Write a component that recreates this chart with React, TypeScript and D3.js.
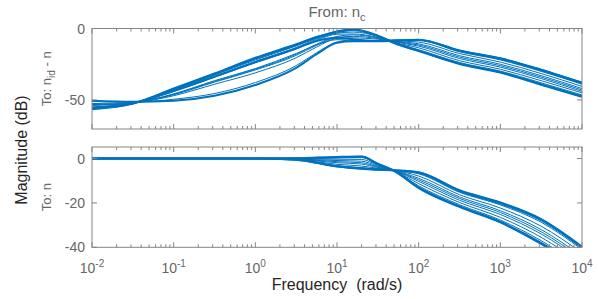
import React from 'react';
import * as d3 from 'd3';

// ---------- data ----------
const FREQ_TOP = [0.01, 0.0316, 0.1, 0.316, 1, 3.16, 5.62, 10, 15.8, 31.6, 50.1, 100, 316, 1000, 3162, 10000];
const FREQ_BOT = [0.01, 1, 3.16, 10, 20, 31.6, 50.1, 100, 316, 1000, 3162, 10000];

// Magnitude (dB), To: n_id - n
const TOP_MAG: number[][] = [
  [-56.5, -52.5, -42, -31.5, -20.5, -11, -6, -2, -0.5, -5, -10, -15.5, -24.5, -30.5, -39, -47.5],
  [-56, -52.4, -42.5, -32, -21, -11.5, -6.3, -2.3, -0.8, -5.2, -10.2, -15.8, -24.8, -30.8, -39.3, -47.8],
  [-55.8, -52.4, -43, -32.5, -22, -12.2, -6.8, -2.8, -1.5, -5.3, -9.8, -14.8, -23.8, -29.8, -38, -46.5],
  [-55.5, -52.3, -43.5, -33.3, -23, -13.3, -7.5, -3.3, -2.5, -5.5, -9.5, -13.5, -22.5, -28.5, -36.5, -45],
  [-55, -52.2, -44, -34, -24, -14.3, -8.3, -4, -3.8, -6.2, -9.2, -12.3, -21, -27, -35, -44],
  [-53.5, -52, -46, -37, -28.5, -18, -11, -5.5, -4.5, -6.5, -9, -11.5, -20, -26, -34, -43],
  [-53.2, -51.9, -46.3, -37.5, -29, -18.8, -11.8, -6.2, -5.5, -7, -8.8, -10.7, -19, -25, -33, -42],
  [-52.5, -51.8, -47, -39, -31, -20.5, -13, -7, -6.5, -7.5, -8.5, -9.5, -17.5, -23.5, -31.5, -40.5],
  [-51, -51.5, -49.5, -45.5, -37.8, -26, -17, -9.5, -8, -8.6, -8.4, -8.4, -16.3, -22, -30, -39],
  [-50.5, -51.3, -50.5, -47, -39.5, -27.5, -18, -10, -9, -9, -8.5, -8, -15.5, -21, -29, -38],
  [-55.3, -52.3, -43.8, -33.8, -23.5, -14, -8.8, -6.5, -7.5, -8.8, -8.3, -7.8, -15.3, -20.8, -28.8, -37.8],
  [-53.8, -52.1, -45.7, -36.5, -28, -17.5, -11.5, -7.8, -8.3, -8.8, -8.3, -8.2, -15.8, -21.5, -29.5, -38.5],
];

// Magnitude (dB), To: n
const BOT_MAG: number[][] = [
  [0, 0, 0.1, 0.7, 0.9, -2.3, -5.5, -13, -21.5, -28.5, -38, -50],
  [0, 0, 0.1, 0.6, 0.8, -2.5, -5.6, -13.3, -21.8, -28.8, -38.5, -50.5],
  [0, 0, 0, 0.3, 0.4, -2.6, -5.5, -12.3, -20.8, -27.7, -37, -49],
  [0, 0, -0.1, -0.3, -0.4, -3, -5.5, -11.3, -19.8, -26.5, -35.5, -47.5],
  [0, 0, -0.2, -0.9, -1.2, -3.4, -5.4, -10.3, -18.8, -25.2, -34, -46],
  [0, 0, -0.3, -1.4, -1.9, -3.7, -5.4, -9.6, -18, -24.3, -33, -45],
  [0, 0, -0.3, -1.9, -2.5, -4, -5.4, -8.9, -17.3, -23.5, -32, -44],
  [0, 0, -0.4, -2.6, -3.4, -4.4, -5.3, -7.9, -16.3, -22.3, -30.5, -42.5],
  [0, 0, -0.5, -3.2, -4.1, -4.7, -5.3, -6.9, -15.2, -20.9, -28.7, -41],
  [0, 0, -0.5, -3.5, -4.5, -4.9, -5.3, -6.3, -14.5, -20, -27.5, -40],
  [0, 0, -0.5, -3.6, -4.6, -5, -5.3, -6.2, -14.3, -19.8, -27.3, -39.7],
  [0, 0, -0.5, -3.4, -4.3, -4.8, -5.3, -6.6, -14.9, -20.5, -28.1, -40.5],
];

const X_TICK_EXP = [-2, -1, 0, 1, 2, 3, 4];
const TOP_Y_TICKS = [0, -50];
const BOT_Y_TICKS = [0, -20, -40];
const TOP_Y_DOMAIN = [-70.3, 0];
const BOT_Y_DOMAIN = [-40, 5.2];

// ---------- layout / style ----------
const W = 598, H = 299;
const L = 92, R = 582;
const TOP_P = { y0: 28.5, y1: 129 };
const BOT_P = { y0: 147, y1: 247.3 };
const BLUE = '#0072BD';
const FRAME = '#858585';
const TICK_TXT = '#666666';
const LABEL_TXT = '#262626';
const FONT = '"Liberation Sans", Arial, Helvetica, sans-serif';
const THICK = new Set([0, 1, 9, 10]);

const x = d3.scaleLog().domain([1e-2, 1e4]).range([L, R]);

function minorTicks(): number[] {
  const out: number[] = [];
  for (let e = -2; e < 4; e++) for (let m = 2; m <= 9; m++) out.push(m * Math.pow(10, e));
  return out;
}

function Panel({ y0, y1, domain, yTicks, freqs, mags, id }: any) {
  const y = d3.scaleLinear().domain(domain).range([y1, y0]);
  const line = d3.line<number>()
    .x((_, i) => x(freqs[i]))
    .y((d) => y(d))
    .curve(d3.curveMonotoneX);
  const majors = X_TICK_EXP.map((e) => Math.pow(10, e));
  const minors = minorTicks();
  return (
    <g>
      <defs>
        <clipPath id={id}>
          <rect x={L} y={y0} width={R - L} height={y1 - y0} />
        </clipPath>
      </defs>
      <g clipPath={`url(#${id})`}>
        {mags.map((m: number[], i: number) => (
          <path key={i} d={line(m) || ''} fill="none" stroke={BLUE}
            strokeWidth={THICK.has(i) ? 2 : 1} strokeLinejoin="round" />
        ))}
      </g>
      <rect x={L} y={y0} width={R - L} height={y1 - y0} fill="none" stroke={FRAME} strokeWidth={1} />
      {majors.map((t, i) => (
        <g key={'M' + i}>
          <line x1={x(t)} x2={x(t)} y1={y0} y2={y0 + 5} stroke={FRAME} />
          <line x1={x(t)} x2={x(t)} y1={y1} y2={y1 - 5} stroke={FRAME} />
        </g>
      ))}
      {minors.map((t, i) => (
        <g key={'m' + i}>
          <line x1={x(t)} x2={x(t)} y1={y0} y2={y0 + 3} stroke={FRAME} />
          <line x1={x(t)} x2={x(t)} y1={y1} y2={y1 - 3} stroke={FRAME} />
        </g>
      ))}
      {yTicks.map((t: number) => (
        <g key={'y' + t}>
          <line x1={L} x2={L + 5} y1={y(t)} y2={y(t)} stroke={FRAME} />
          <line x1={R} x2={R - 5} y1={y(t)} y2={y(t)} stroke={FRAME} />
          <text x={L - 7} y={y(t)} dy="0.36em" textAnchor="end" fontSize={14} fill={TICK_TXT} fontFamily={FONT}>
            {t < 0 ? '-' + Math.abs(t) : String(t)}
          </text>
        </g>
      ))}
    </g>
  );
}

export default function App() {
  return (
    <svg width={W} height={H} viewBox={`0 0 ${W} ${H}`}
      style={{ position: 'absolute', left: 0, top: 0, background: '#fff' }}>
      <rect x={0} y={0} width={W} height={H} fill="#fff" />
      <Panel id="clipTop" y0={TOP_P.y0} y1={TOP_P.y1} domain={TOP_Y_DOMAIN} yTicks={TOP_Y_TICKS}
        freqs={FREQ_TOP} mags={TOP_MAG} />
      <Panel id="clipBot" y0={BOT_P.y0} y1={BOT_P.y1} domain={BOT_Y_DOMAIN} yTicks={BOT_Y_TICKS}
        freqs={FREQ_BOT} mags={BOT_MAG} />
      {X_TICK_EXP.map((e) => (
        <text key={e} x={x(Math.pow(10, e))} y={273} textAnchor="middle" fontSize={14}
          fill={TICK_TXT} fontFamily={FONT}>
          10<tspan fontSize={10} dy={-6}>{String(e)}</tspan>
        </text>
      ))}
      <text x={(L + R) / 2} y={17} textAnchor="middle" fontSize={15} fill={TICK_TXT} fontFamily={FONT}>
        From: n<tspan fontSize={11} dy={4}>c</tspan>
      </text>
      <text transform={`translate(51,${(TOP_P.y0 + TOP_P.y1) / 2}) rotate(-90)`} textAnchor="middle"
        fontSize={13} fill={TICK_TXT} fontFamily={FONT}>
        To: n<tspan fontSize={10} dy={4}>id</tspan><tspan dy={-4}> - n</tspan>
      </text>
      <text transform={`translate(51,${(BOT_P.y0 + BOT_P.y1) / 2}) rotate(-90)`} textAnchor="middle"
        fontSize={13} fill={TICK_TXT} fontFamily={FONT}>
        To: n
      </text>
      <text transform={`translate(27,150) rotate(-90)`} textAnchor="middle"
        fontSize={16} fill={LABEL_TXT} fontFamily={FONT}>
        Magnitude (dB)
      </text>
      <text x={(L + R) / 2} y={290} textAnchor="middle" fontSize={16} fill={LABEL_TXT} fontFamily={FONT}>
        {'Frequency\u00A0 (rad/s)'}
      </text>
    </svg>
  );
}
